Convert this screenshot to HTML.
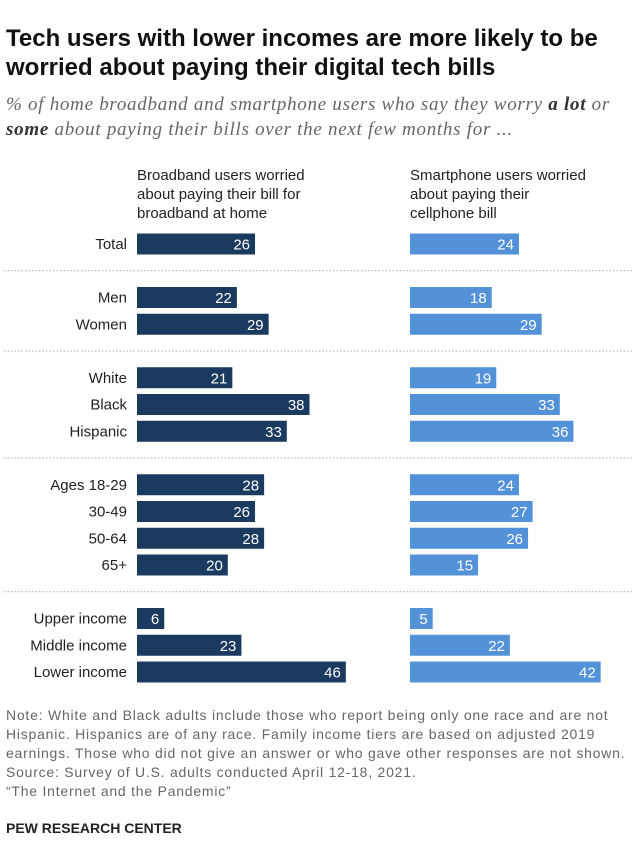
<!DOCTYPE html>
<html><head><meta charset="utf-8"><style>
body{margin:0;background:#fff;font-family:"Liberation Sans",sans-serif;}
#c{position:relative;width:640px;height:864px;overflow:hidden}
.t{position:absolute;white-space:nowrap}
</style></head><body><div id="c">
<div class="t" style="left:6px;top:24px;font-size:24px;font-weight:bold;line-height:29px;color:#111">Tech users with lower incomes are more likely to be<br>worried about paying their digital tech bills</div>
<div class="t" style="left:6px;top:92px;font-family:'Liberation Serif',serif;font-style:italic;font-size:19px;letter-spacing:0.72px;line-height:25px;color:#666">% of home broadband and smartphone users who say they worry <b style="color:#333">a lot</b> or<br><b style="color:#333">some</b> about paying their bills over the next few months for ...</div>
<div class="t" style="left:137px;top:166px;font-size:15px;line-height:19px;color:#222">Broadband users worried<br>about paying their bill for<br>broadband at home</div>
<div class="t" style="left:410px;top:166px;font-size:15px;line-height:19px;color:#222">Smartphone users worried<br>about paying their<br>cellphone bill</div>
<svg id="s" width="640" height="864" style="position:absolute;left:0;top:0"></svg>
<div class="t" style="left:6px;top:706px;font-size:14px;letter-spacing:0.77px;line-height:19px;color:#666">Note: White and Black adults include those who report being only one race and are not<br>Hispanic. Hispanics are of any race. Family income tiers are based on adjusted 2019<br>earnings. Those who did not give an answer or who gave other responses are not shown.<br>Source: Survey of U.S. adults conducted April 12-18, 2021.<br>“The Internet and the Pandemic”</div>
<div class="t" style="left:6px;top:820px;font-size:14px;font-weight:bold;color:#222">PEW RESEARCH CENTER</div>
</div>
<script>
const categories=["Total","Men","Women","White","Black","Hispanic","Ages 18-29","30-49","50-64","65+","Upper income","Middle income","Lower income"];
const broadband=[26,22,29,21,38,33,28,26,28,20,6,23,46];
const smartphone=[24,18,29,19,33,36,24,27,26,15,5,22,42];
const groups=[0,1,1,2,2,2,3,3,3,3,4,4,4];
const s=document.getElementById('s');const NS='http://www.w3.org/2000/svg';
const k=4.54;
function ys(i){return 244+(i)*26.75+groups[i]*26.75;}
function el(t,a){const e=document.createElementNS(NS,t);for(const x in a)e.setAttribute(x,a[x]);s.appendChild(e);return e;}
categories.forEach((c,i)=>{
 const y=ys(i);
 const l=el('text',{x:127,y:y+5,'text-anchor':'end','font-size':15,fill:'#222','font-family':'Liberation Sans'});l.textContent=c;
 
 
 [[broadband,137,'#1b3a5f'],[smartphone,410,'#5392d8']].forEach(([arr,x0,col])=>{
  const w=arr[i]*k;
  const r=el('rect',{x:x0,y:y-10.5,width:w,height:21,fill:col});
  
  
  const v=el('text',{x:x0+w-5,y:y+5.5,'text-anchor':'end','font-size':15,fill:'#fff','font-family':'Liberation Sans'});v.textContent=arr[i];
  
  
 });
 if(i<categories.length-1&&groups[i+1]!==groups[i]){
  const ly=(ys(i)+ys(i+1))/2;
  const d=el('line',{x1:4,x2:632,y1:ly,y2:ly,stroke:'#aaa','stroke-dasharray':'1.5 2','stroke-width':1});
  
  
 }
});
</script></body></html>
